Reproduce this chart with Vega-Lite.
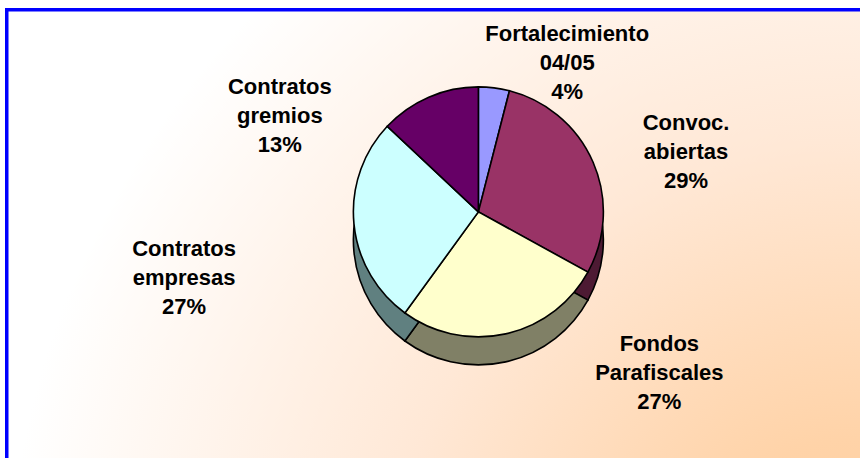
{
  "$schema": "https://vega.github.io/schema/vega-lite/v6.json",
  "width": 853.25,
  "height": 448.25,
  "autosize": {"type": "none"},
  "padding": {"left": 6.75, "top": 9.75, "right": 0, "bottom": 0},
  "background": "#FFFFFF",
  "view": {
    "stroke": "#0000FF",
    "strokeWidth": 3.5,
    "strokeDash": [853.25, 1301.5, 448.25],
    "fill": {
      "gradient": "radial",
      "x1": 1, "y1": 0.94, "r1": 0,
      "x2": 1, "y2": 0.94, "r2": 1,
      "stops": [
        {"offset": 0, "color": "#FFCC99"},
        {"offset": 0.2, "color": "#FFD3A8"},
        {"offset": 0.55, "color": "#FFE8D6"},
        {"offset": 1, "color": "#FFFFFF"}
      ]
    }
  },
  "data": {
    "values": [
      {"k": 1, "name": "Fortalecimiento\n04/05", "value": 4},
      {"k": 2, "name": "Convoc.\nabiertas", "value": 29},
      {"k": 3, "name": "Fondos\nParafiscales", "value": 27},
      {"k": 4, "name": "Contratos\nempresas", "value": 27},
      {"k": 5, "name": "Contratos\ngremios", "value": 13}
    ]
  },
  "transform": [
    {"calculate": "datum.name + '\\n' + datum.value + '%'", "as": "label"}
  ],
  "encoding": {
    "theta": {"field": "value", "type": "quantitative", "stack": true},
    "order": {"field": "k", "type": "quantitative"}
  },
  "layer": [
    {
      "mark": {"type": "arc", "outerRadius": 125, "xOffset": 45, "yOffset": 6, "stroke": "#000000", "strokeWidth": 1.6},
      "encoding": {
        "fill": {
          "field": "name", "type": "nominal", "legend": null,
          "scale": {
            "domain": ["Fortalecimiento\n04/05", "Convoc.\nabiertas", "Fondos\nParafiscales", "Contratos\nempresas", "Contratos\ngremios"],
            "range": ["#5C5C99", "#4D1A33", "#808066", "#608080", "#330033"]
          }
        }
      }
    },
    {
      "mark": {"type": "arc", "outerRadius": 125, "xOffset": 45, "yOffset": -22, "stroke": "#000000", "strokeWidth": 1.6},
      "encoding": {
        "color": {
          "field": "name", "type": "nominal", "legend": null,
          "scale": {
            "domain": ["Fortalecimiento\n04/05", "Convoc.\nabiertas", "Fondos\nParafiscales", "Contratos\nempresas", "Contratos\ngremios"],
            "range": ["#9999FF", "#993366", "#FFFFCC", "#CCFFFF", "#660066"]
          }
        }
      }
    },
    {
      "mark": {"type": "text", "radius": 150, "xOffset": 115, "yOffset": -51, "font": "Liberation Sans", "fontWeight": "bold", "fontSize": 22, "lineHeight": 29, "lineBreak": "\n", "align": "center", "baseline": "middle", "color": "#000000"},
      "encoding": {
        "text": {"condition": {"test": "datum.k <= 2", "field": "label", "type": "nominal"}, "value": ""}
      }
    },
    {
      "mark": {"type": "text", "radius": 165, "xOffset": 190, "yOffset": -51, "font": "Liberation Sans", "fontWeight": "bold", "fontSize": 22, "lineHeight": 29, "lineBreak": "\n", "align": "center", "baseline": "middle", "color": "#000000"},
      "encoding": {
        "text": {"condition": {"test": "datum.k == 3", "field": "label", "type": "nominal"}, "value": ""}
      }
    },
    {
      "mark": {"type": "text", "radius": 160, "xOffset": -90, "yOffset": 0, "font": "Liberation Sans", "fontWeight": "bold", "fontSize": 22, "lineHeight": 29, "lineBreak": "\n", "align": "center", "baseline": "middle", "color": "#000000"},
      "encoding": {
        "text": {"condition": {"test": "datum.k >= 4", "field": "label", "type": "nominal"}, "value": ""}
      }
    }
  ]
}
